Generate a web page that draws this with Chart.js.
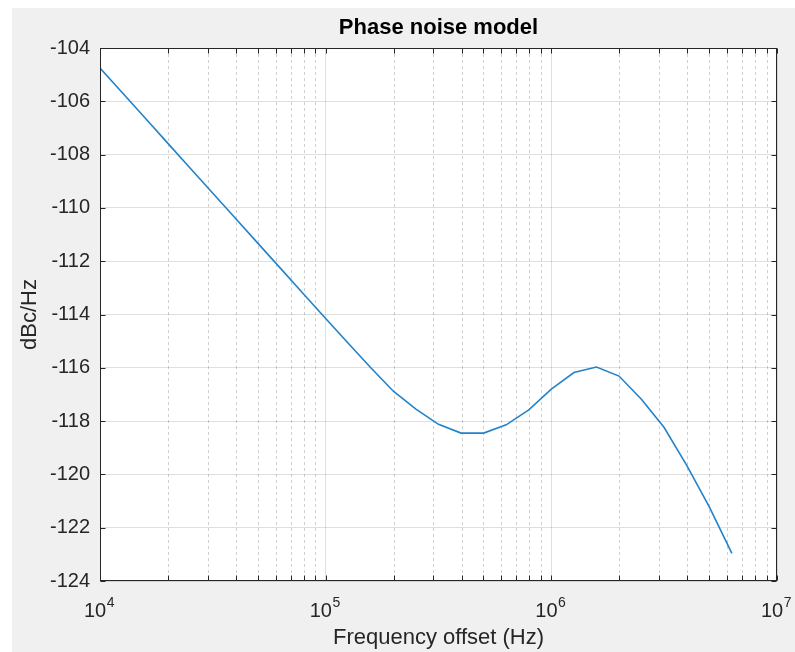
<!DOCTYPE html>
<html>
<head>
<meta charset="utf-8">
<title>Phase noise model</title>
<script src="https://cdn.jsdelivr.net/npm/chart.js@4/dist/chart.umd.min.js"></script>
<style>
    html, body { margin: 0; padding: 0; background: #ffffff; overflow: hidden; }
    #figure { position: absolute; left: 12px; top: 8px; right: 0; bottom: 0; background: #f0f0f0; }
    #wrap { position: absolute; left: 0; top: 0; width: 795px; height: 652px; }
</style>
</head>
<body>
<div id="figure"></div>
<div id="wrap"><canvas id="phaseNoise"></canvas></div>
<script>
'use strict';

// 周波数オフセット (Hz), 1/10 デケード刻み
const freqOffsets = [
    1.000e4, 1.259e4, 1.585e4, 1.995e4, 2.512e4, 3.162e4, 3.981e4, 5.012e4, 6.310e4, 7.943e4,
    1.000e5, 1.259e5, 1.585e5, 1.995e5, 2.512e5, 3.162e5, 3.981e5, 5.012e5, 6.310e5, 7.943e5,
    1.000e6, 1.259e6, 1.585e6, 1.995e6, 2.512e6, 3.162e6, 3.981e6, 5.012e6, 6.310e6
];
// 位相雑音レベル (dBc/Hz)
const noiseLevels = [
    -104.75, -105.69, -106.63, -107.57, -108.51, -109.45, -110.39, -111.33, -112.27, -113.21,
    -114.15, -115.08, -116.00, -116.88, -117.55, -118.12, -118.45, -118.45, -118.14, -117.58,
    -116.80, -116.18, -115.97, -116.31, -117.19, -118.24, -119.66, -121.22, -122.96
];
// 軸目盛り
const yTicks = [-124, -122, -120, -118, -116, -114, -112, -110, -108, -106, -104];
const xDecades = [1e4, 1e5, 1e6, 1e7];
const xDecadeLabels = [['10', '4'], ['10', '5'], ['10', '6'], ['10', '7']];

const AXIS_COLOR = '#262626';
const FONT = '"Liberation Sans", Arial, sans-serif';

// 2〜9 x 10^n の補助目盛り
const xMinor = [];
for (let d = 0; d < xDecades.length - 1; d++) {
    for (let m = 2; m <= 9; m++) xMinor.push(xDecades[d] * m);
}

/**
 * MATLAB風の軸: 白い描画領域, 点線の補助グリッド, 内向き目盛り, 枠, 10^n ラベル
 */
const matlabAxes = {
    id: 'matlabAxes',
    beforeDraw(chart) {
        const {ctx, chartArea: a} = chart;
        ctx.save();
        ctx.fillStyle = '#ffffff';
        ctx.fillRect(a.left, a.top, a.right - a.left, a.bottom - a.top);
        ctx.restore();
    },
    beforeDatasetsDraw(chart) {
        const {ctx, chartArea: a, scales: {x}} = chart;
        ctx.save();
        ctx.strokeStyle = 'rgba(38,38,38,0.22)';
        ctx.lineWidth = 1;
        ctx.setLineDash([3, 3]);
        xMinor.forEach(v => {
            const px = Math.round(x.getPixelForValue(v)) + 0.5;
            ctx.beginPath();
            ctx.moveTo(px, a.top);
            ctx.lineTo(px, a.bottom);
            ctx.stroke();
        });
        ctx.restore();
    },
    afterDatasetsDraw(chart) {
        const {ctx, chartArea: a, scales: {x, y}} = chart;
        const tl = 5;
        const L = a.left + 0.5, R = Math.round(a.right) - 0.5;
        const T = Math.round(a.top) + 0.5, B = Math.round(a.bottom) - 0.5;
        ctx.save();
        ctx.strokeStyle = AXIS_COLOR;
        ctx.lineWidth = 1;
        ctx.beginPath();
        xDecades.concat(xMinor).forEach(v => {
            const px = Math.round(x.getPixelForValue(v)) + 0.5;
            ctx.moveTo(px, B); ctx.lineTo(px, B - tl);
            ctx.moveTo(px, T); ctx.lineTo(px, T + tl);
        });
        yTicks.forEach(v => {
            const py = Math.round(y.getPixelForValue(v)) + 0.5;
            ctx.moveTo(L, py); ctx.lineTo(L + tl, py);
            ctx.moveTo(R, py); ctx.lineTo(R - tl, py);
        });
        ctx.stroke();
        ctx.strokeRect(L, T, R - L, B - T);

        // 10^n ラベル
        ctx.fillStyle = AXIS_COLOR;
        ctx.textBaseline = 'alphabetic';
        ctx.textAlign = 'left';
        xDecades.forEach((v, i) => {
            const [base, exp] = xDecadeLabels[i];
            ctx.font = '20px ' + FONT;
            const wb = ctx.measureText(base).width;
            ctx.font = '14px ' + FONT;
            const we = ctx.measureText(exp).width;
            const x0 = x.getPixelForValue(v) - (wb + we) / 2 - 1;
            ctx.font = '20px ' + FONT;
            ctx.fillText(base, x0, a.bottom + 36);
            ctx.font = '14px ' + FONT;
            ctx.fillText(exp, x0 + wb + 0.5, a.bottom + 26);
        });
        ctx.restore();
    }
};

Chart.defaults.font.family = FONT;
Chart.defaults.color = AXIS_COLOR;

const ctx = document.getElementById('phaseNoise');
const chart = new Chart(ctx, {
    type: 'line',
    data: {
        datasets: [{
            label: 'Phase noise',
            data: freqOffsets.map((f, i) => ({x: f, y: noiseLevels[i]})),
            borderColor: '#2283cb',
            borderWidth: 1.6,
            pointRadius: 0,
            tension: 0,
            fill: false
        }]
    },
    plugins: [matlabAxes],
    options: {
        responsive: true,
        maintainAspectRatio: false,
        animation: false,
        layout: {
            padding: {left: 0, right: 18, top: 0, bottom: 0}
        },
        plugins: {
            legend: {display: false},
            tooltip: {enabled: false},
            title: {
                display: true,
                text: 'Phase noise model',
                fullSize: false,
                color: '#000000',
                font: {size: 22, weight: 'bold', family: FONT},
                padding: {top: 15, bottom: 6.6}
            }
        },
        scales: {
            x: {
                type: 'logarithmic',
                min: 1e4,
                max: 1e7,
                afterBuildTicks: (scale) => {
                    scale.ticks = xDecades.map(v => ({value: v}));
                },
                afterFit: (scale) => { scale.height = 71; },
                ticks: {display: false},
                grid: {color: 'rgba(38,38,38,0.15)', drawTicks: false},
                border: {display: false},
                title: {
                    display: true,
                    text: 'Frequency offset (Hz)',
                    color: AXIS_COLOR,
                    font: {size: 22, family: FONT},
                    padding: {top: 0, bottom: 1}
                }
            },
            y: {
                type: 'linear',
                min: -124,
                max: -104,
                afterBuildTicks: (scale) => {
                    scale.ticks = yTicks.map(v => ({value: v}));
                },
                afterFit: (scale) => { scale.width = 100; },
                ticks: {
                    padding: 10,
                    color: AXIS_COLOR,
                    font: {size: 20, family: FONT}
                },
                grid: {color: 'rgba(38,38,38,0.15)', drawTicks: false},
                border: {display: false},
                title: {
                    display: true,
                    text: 'dBc/Hz',
                    color: AXIS_COLOR,
                    font: {size: 22, family: FONT},
                    padding: {top: 17, bottom: 0}
                }
            }
        }
    }
});
</script>
</body>
</html>
